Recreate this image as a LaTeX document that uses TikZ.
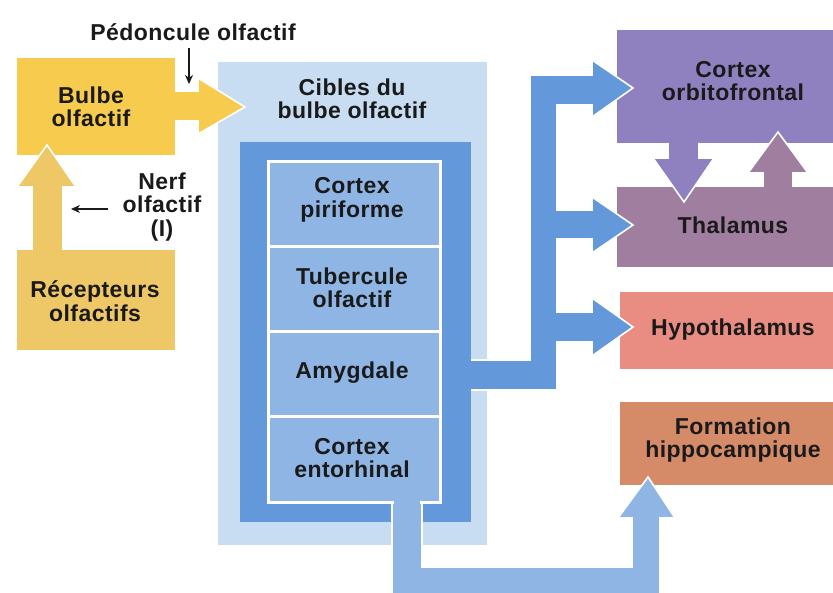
\documentclass[tikz,border=0pt]{standalone}
\usepackage{fontspec}
\setmainfont{Liberation Sans}[LetterSpace=2]
\usetikzlibrary{arrows.meta}
\definecolor{bulbecol}{HTML}{F7CB4D}
\definecolor{recepcol}{HTML}{EEC766}
\definecolor{ciblescol}{HTML}{C8DCF2}
\definecolor{framecol}{HTML}{6399DA}
\definecolor{cellcol}{HTML}{8FB5E5}
\definecolor{orbitocol}{HTML}{8F80BF}
\definecolor{thalcol}{HTML}{A07E9F}
\definecolor{hypocol}{HTML}{E98C82}
\definecolor{formcol}{HTML}{D58A68}
\definecolor{txtcol}{HTML}{1A1A1A}
\begin{document}
\begin{tikzpicture}[x=1pt,y=-1pt,
  lbl/.style={font=\fontsize{23}{23.5}\selectfont\bfseries, text=txtcol, align=center, inner sep=0pt},
  blk/.style={draw=none, inner sep=0pt, outer sep=0pt},
  cellbox/.style={fill=cellcol, draw=white, line width=3pt, inner sep=0pt, minimum width=172pt, minimum height=85pt},
  edge/.style={draw=white, line width=1.6pt, line join=miter},
  thin/.style={draw=txtcol, line width=1.4pt, -{Stealth[length=9pt,width=8pt]}}]
\useasboundingbox[fill=white] (0,0) rectangle (833,593);

% target region
\node[blk, fill=ciblescol, minimum width=269pt, minimum height=483pt] (cibles) at (352.5,303.5) {};

% right boxes
\node[blk, fill=orbitocol, minimum width=232pt, minimum height=113pt] (orbito) at (733,86.5) {};
\node[blk, fill=thalcol, minimum width=232pt, minimum height=80pt] (thal) at (733,227) {};
\node[blk, fill=hypocol, minimum width=229pt, minimum height=77pt] (hypo) at (734.5,330.5) {};
\node[blk, fill=formcol, minimum width=229pt, minimum height=83pt] (form) at (734.5,443.5) {};

% purple arrows between orbitofrontal and thalamus
\fill[orbitocol] (668,142) -- (668,158) -- (653,158) -- (684,202) -- (714,158) -- (699,158) -- (699,142) -- cycle;
\draw[edge] (668,143) -- (668,158) -- (653,158) -- (684,202) -- (714,158) -- (699,158) -- (699,143);
\fill[thalcol] (763,188) -- (763,173) -- (748,173) -- (778,132) -- (808,173) -- (793,173) -- (793,188) -- cycle;
\draw[edge] (763,187) -- (763,173) -- (748,173) -- (778,132) -- (808,173) -- (793,173) -- (793,187);

% dark blue output arrows
\filldraw[fill=framecol, edge] (465,360) -- (530,360) -- (530,75) -- (592,75) -- (592,60) -- (633,88)
  -- (592,117) -- (592,105) -- (557,105) -- (557,210) -- (592,210) -- (592,197) -- (633,225)
  -- (592,253) -- (592,239) -- (557,239) -- (557,312) -- (592,312) -- (592,298) -- (633,327)
  -- (592,356) -- (592,342) -- (557,342) -- (557,390) -- (465,390) -- cycle;

% inner frame
\node[blk, fill=framecol, minimum width=231pt, minimum height=380pt] (frame) at (355.5,332) {};

% entorhinal output to hippocampal formation
\filldraw[fill=cellcol, edge] (422,500) -- (422,567) -- (632,567) -- (632,518) -- (618,518) -- (648,477)
  -- (675,518) -- (660,518) -- (660,605) -- (392,605) -- (392,500);

% cells
\node[cellbox] (piri) at (354,204.5) {};
\node[cellbox] (tuber) at (354,289.5) {};
\node[cellbox] (amyg) at (354,374.5) {};
\node[cellbox] (ento) at (354,459.5) {};
\fill[cellcol] (393.6,498) rectangle (420.4,507);

% yellow boxes and arrows
\node[blk, fill=bulbecol, minimum width=158pt, minimum height=97pt] (bulbe) at (96,106.5) {};
\node[blk, fill=recepcol, minimum width=158pt, minimum height=100pt] (recep) at (96,300) {};
\fill[recepcol] (32,251) -- (32,187) -- (17,187) -- (47,145) -- (76,187) -- (63,187) -- (63,251) -- cycle;
\draw[edge] (32,250) -- (32,187) -- (17,187) -- (47,145) -- (76,187) -- (63,187) -- (63,250);
\fill[bulbecol] (174,91) -- (198,91) -- (198,78) -- (245,107) -- (198,134) -- (198,121) -- (174,121) -- cycle;
\draw[edge] (175,91) -- (198,91) -- (198,78) -- (245,107) -- (198,134) -- (198,121) -- (175,121);

% labels
\node[lbl] (pedtxt) at (193,32) {Pédoncule olfactif};
\coordinate (pedtip) at (189,84);
\draw[thin] (pedtxt.south -| pedtip) ++(0,7) -- (pedtip);
\node[lbl] (bulbetxt) at (91,107) {Bulbe\\olfactif};
\node[lbl] (nerftxt) at (162,207) {Nerf\\olfactif\\(I)};
\coordinate (nerftail) at (108,209);
\coordinate (nerftip) at (71,209);
\draw[thin] (nerftail) -- (nerftip);
\node[lbl] (receptxt) at (95,301) {Récepteurs\\olfactifs};
\node[lbl] (ciblestxt) at (352,99) {Cibles du\\bulbe olfactif};
\node[lbl] (piritxt) at (352,200) {Cortex\\piriforme};
\node[lbl] (tubertxt) at (352,288) {Tubercule\\olfactif};
\node[lbl] (amygtxt) at (352,373) {Amygdale};
\node[lbl] (entotxt) at (352,458) {Cortex\\entorhinal};
\node[lbl] (orbitotxt) at (733,81) {Cortex\\orbitofrontal};
\node[lbl] (thaltxt) at (733,225) {Thalamus};
\node[lbl] (hypotxt) at (733,330) {Hypothalamus};
\node[lbl] (formtxt) at (733,440) {Formation\\hippocampique};
\end{tikzpicture}
\end{document}
